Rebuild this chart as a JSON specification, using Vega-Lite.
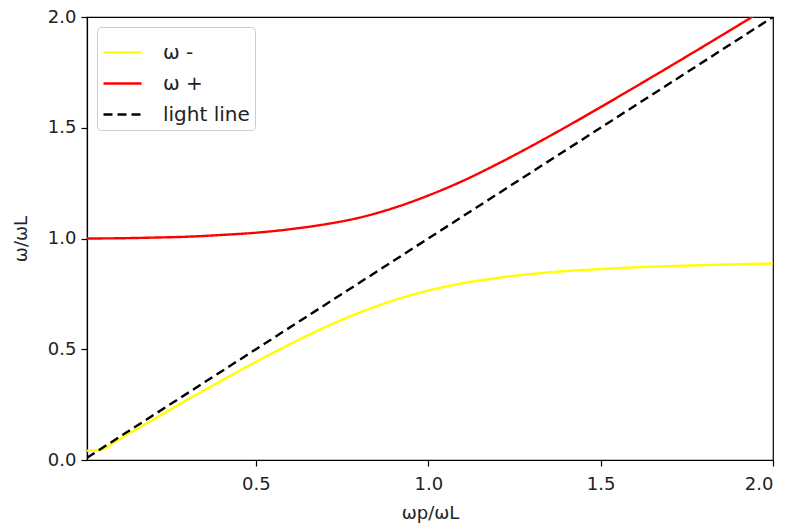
{
  "$schema": "https://vega.github.io/schema/vega-lite/v6.json",
  "width": 686,
  "height": 443,
  "autosize": {"type": "none"},
  "padding": {"left": 87, "top": 17, "right": 17, "bottom": 66},
  "background": "white",
  "config": {
    "font": "DejaVu Sans",
    "view": {"stroke": "black", "strokeWidth": 1.2},
    "axis": {
      "grid": false,
      "domainColor": "black",
      "domainWidth": 1.2,
      "tickColor": "black",
      "tickWidth": 1.2,
      "tickSize": 6,
      "labelFont": "DejaVu Sans",
      "labelFontSize": 18,
      "labelColor": "#222",
      "labelPadding": 5,
      "titleFont": "DejaVu Sans",
      "titleFontSize": 18,
      "titleFontWeight": "normal",
      "titleColor": "#222"
    },
    "legend": {
      "labelFont": "DejaVu Sans",
      "labelFontSize": 20,
      "labelColor": "#222"
    }
  },
  "data": {
    "values": [
      {"x": 0.01, "y": 0.042, "series": "ω -"},
      {"x": 0.05, "y": 0.047, "series": "ω -"},
      {"x": 0.1, "y": 0.091, "series": "ω -"},
      {"x": 0.2, "y": 0.181, "series": "ω -"},
      {"x": 0.3, "y": 0.271, "series": "ω -"},
      {"x": 0.4, "y": 0.358, "series": "ω -"},
      {"x": 0.5, "y": 0.443, "series": "ω -"},
      {"x": 0.6, "y": 0.524, "series": "ω -"},
      {"x": 0.7, "y": 0.599, "series": "ω -"},
      {"x": 0.8, "y": 0.665, "series": "ω -"},
      {"x": 0.9, "y": 0.721, "series": "ω -"},
      {"x": 1.0, "y": 0.765, "series": "ω -"},
      {"x": 1.1, "y": 0.798, "series": "ω -"},
      {"x": 1.2, "y": 0.822, "series": "ω -"},
      {"x": 1.3, "y": 0.840, "series": "ω -"},
      {"x": 1.4, "y": 0.853, "series": "ω -"},
      {"x": 1.5, "y": 0.862, "series": "ω -"},
      {"x": 1.6, "y": 0.870, "series": "ω -"},
      {"x": 1.7, "y": 0.875, "series": "ω -"},
      {"x": 1.8, "y": 0.880, "series": "ω -"},
      {"x": 1.9, "y": 0.884, "series": "ω -"},
      {"x": 2.0, "y": 0.887, "series": "ω -"},
      {"x": 0.01, "y": 1.0, "series": "ω +"},
      {"x": 0.1, "y": 1.001, "series": "ω +"},
      {"x": 0.2, "y": 1.004, "series": "ω +"},
      {"x": 0.3, "y": 1.008, "series": "ω +"},
      {"x": 0.4, "y": 1.016, "series": "ω +"},
      {"x": 0.5, "y": 1.026, "series": "ω +"},
      {"x": 0.6, "y": 1.042, "series": "ω +"},
      {"x": 0.7, "y": 1.064, "series": "ω +"},
      {"x": 0.8, "y": 1.094, "series": "ω +"},
      {"x": 0.9, "y": 1.138, "series": "ω +"},
      {"x": 1.0, "y": 1.194, "series": "ω +"},
      {"x": 1.1, "y": 1.260, "series": "ω +"},
      {"x": 1.2, "y": 1.336, "series": "ω +"},
      {"x": 1.3, "y": 1.418, "series": "ω +"},
      {"x": 1.4, "y": 1.504, "series": "ω +"},
      {"x": 1.5, "y": 1.593, "series": "ω +"},
      {"x": 1.6, "y": 1.684, "series": "ω +"},
      {"x": 1.7, "y": 1.776, "series": "ω +"},
      {"x": 1.8, "y": 1.869, "series": "ω +"},
      {"x": 1.9, "y": 1.963, "series": "ω +"},
      {"x": 2.0, "y": 2.058, "series": "ω +"},
      {"x": 0.01, "y": 0.01, "series": "light line"},
      {"x": 2.0, "y": 2.0, "series": "light line"}
    ]
  },
  "mark": {"type": "line", "strokeWidth": 2.4, "clip": true, "interpolate": "monotone"},
  "encoding": {
    "x": {
      "field": "x",
      "type": "quantitative",
      "scale": {"domain": [0.01, 2.0], "nice": false, "zero": false},
      "axis": {"values": [0.5, 1.0, 1.5, 2.0], "format": ".1f", "title": "ωp/ωL", "labelPadding": 9, "titlePadding": 11}
    },
    "y": {
      "field": "y",
      "type": "quantitative",
      "scale": {"domain": [0, 2.0], "nice": false},
      "axis": {"values": [0, 0.5, 1.0, 1.5, 2.0], "format": ".1f", "title": "ω/ωL", "titlePadding": 17}
    },
    "color": {
      "field": "series",
      "type": "nominal",
      "scale": {"domain": ["ω -", "ω +", "light line"], "range": ["#ffff00", "#ff0000", "#000000"]},
      "legend": {
        "title": null,
        "orient": "top-left",
        "offset": 10,
        "padding": 5,
        "strokeColor": "#cccccc",
        "fillColor": "white",
        "cornerRadius": 4,
        "symbolType": "stroke",
        "symbolSize": 1444,
        "symbolStrokeWidth": 2.4,
        "labelOffset": 20,
        "rowPadding": 0
      }
    },
    "strokeDash": {
      "field": "series",
      "type": "nominal",
      "scale": {"domain": ["ω -", "ω +", "light line"], "range": [[1, 0], [1, 0], [9, 5]]},
      "legend": null
    },
    "order": {"field": "x", "type": "quantitative"}
  }
}
